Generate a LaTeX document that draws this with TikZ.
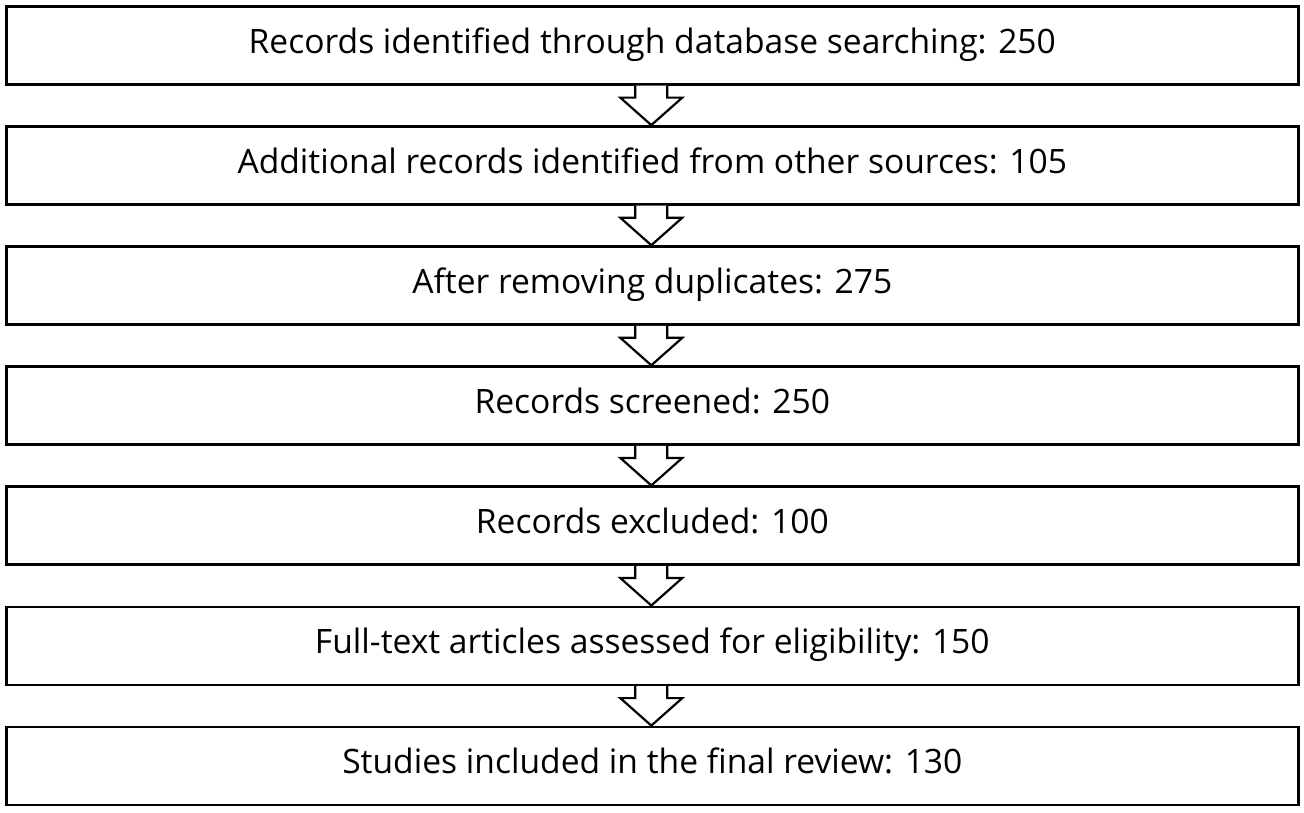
\documentclass[tikz,border=0pt]{standalone}
\usepackage{fontspec}
\setmainfont{Open Sans}
\begin{document}
\begin{tikzpicture}[x=1pt,y=-1pt,
  stagebox/.style={draw=black,line width=2.6pt,minimum width=1292pt,minimum height=78pt,inner sep=0pt,font=\fontsize{33.6}{40}\selectfont,anchor=north west},
  flowarrow/.style={draw=black,line width=2.2pt,line join=miter}]
\useasboundingbox (0,0) rectangle (1304,812);
\fill[white] (0,0) rectangle (1304,812);
\foreach \i/\t in {0/{Records identified through database searching: 250},
                   1/{Additional records identified from other sources: 105},
                   2/{After removing duplicates: 275},
                   3/{Records screened: 250},
                   4/{Records excluded: 100},
                   5/{Full-text articles assessed for eligibility: 150},
                   6/{Studies included in the final review: 130}}{
  \node[stagebox] (b\i) at (5,{5+120.1*\i}) {\strut\t};
}
\foreach \i [evaluate=\i as \j using int(\i+1)] in {0,...,5}{
  \coordinate (top\i) at ([xshift=-1pt]b\i.south);
  \coordinate (tip\i) at ([xshift=-1pt]b\j.north);
  \fill[white] ([xshift=-16pt]top\i) -- ([xshift=-16pt,yshift=-12pt]top\i) -- ([xshift=-31pt,yshift=-12pt]top\i) -- (tip\i) -- ([xshift=31pt,yshift=-12pt]top\i) -- ([xshift=16pt,yshift=-12pt]top\i) -- ([xshift=16pt]top\i) -- cycle;
  \draw[flowarrow] ([xshift=-16pt]top\i) -- ([xshift=-16pt,yshift=-12pt]top\i) -- ([xshift=-31pt,yshift=-12pt]top\i) -- (tip\i) -- ([xshift=31pt,yshift=-12pt]top\i) -- ([xshift=16pt,yshift=-12pt]top\i) -- ([xshift=16pt]top\i);
}
\end{tikzpicture}
\end{document}
